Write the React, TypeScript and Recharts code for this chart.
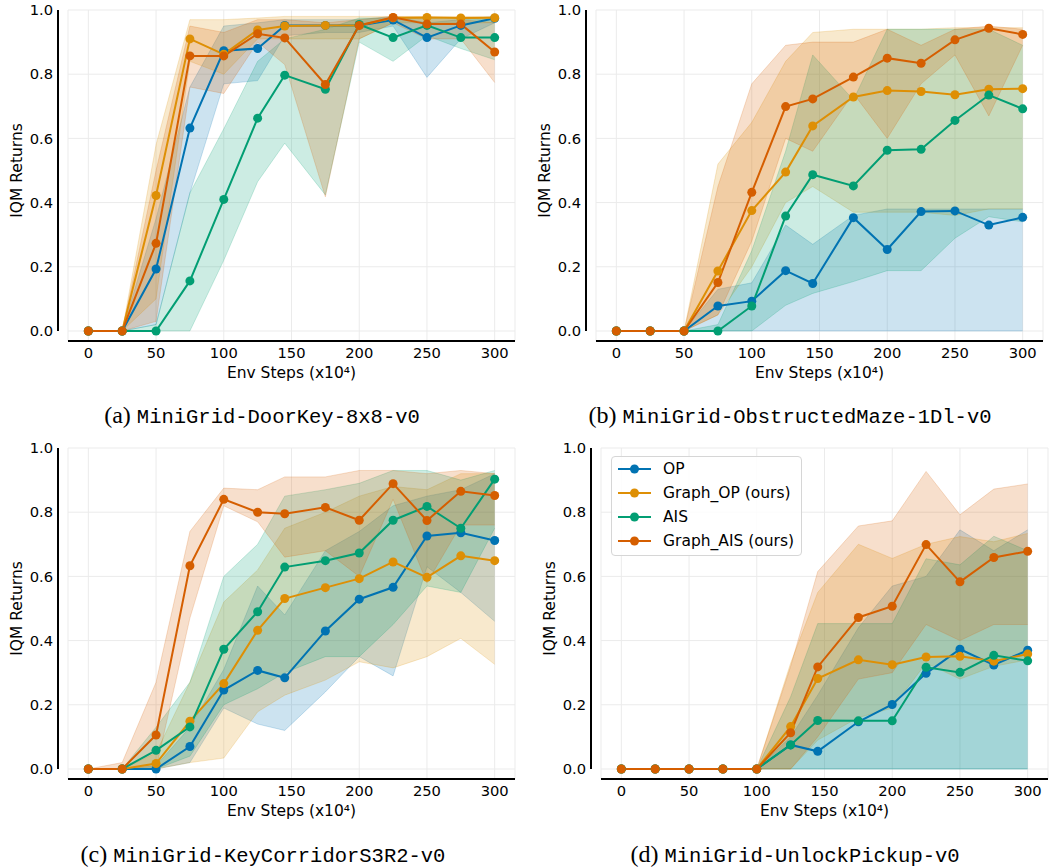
import {
  ComposedChart,
  Line,
  Area,
  XAxis,
  YAxis,
  CartesianGrid,
  ReferenceLine,
  Legend,
} from "recharts";

// x positions (env steps, x10^4)
const steps = [0, 25, 50, 75, 100, 125, 145, 175, 200, 225, 250, 275, 300];
const xTicks = [0, 50, 100, 150, 200, 250, 300];
const yTicks = [0, 0.2, 0.4, 0.6, 0.8, 1.0];

const seriesNames = ["OP", "Graph_OP (ours)", "AIS", "Graph_AIS (ours)"];
const envNames = [
  "MiniGrid-DoorKey-8x8-v0",
  "MiniGrid-ObstructedMaze-1Dl-v0",
  "MiniGrid-KeyCorridorS3R2-v0",
  "MiniGrid-UnlockPickup-v0",
];
const panelTags = ["a", "b", "c", "d"];

// (a) DoorKey-8x8
const dkOP = [0, 0, 0.193, 0.632, 0.873, 0.88, 0.952, 0.952, 0.952, 0.969, 0.914, 0.952, 0.974];
const dkOPLo = [0, 0, 0.02, 0.43, 0.77, 0.78, 0.92, 0.93, 0.93, 0.95, 0.79, 0.91, 0.96];
const dkOPHi = [0, 0, 0.35, 0.76, 0.95, 0.96, 0.97, 0.97, 0.97, 0.98, 0.96, 0.97, 0.98];
const dkGOP = [0, 0, 0.422, 0.91, 0.862, 0.938, 0.95, 0.952, 0.952, 0.976, 0.977, 0.975, 0.976];
const dkGOPLo = [0, 0, 0.1, 0.84, 0.8, 0.91, 0.91, 0.91, 0.91, 0.96, 0.96, 0.96, 0.96];
const dkGOPHi = [0, 0, 0.58, 0.97, 0.97, 0.975, 0.98, 0.98, 0.98, 0.98, 0.98, 0.98, 0.98];
const dkAIS = [0, 0, 0, 0.156, 0.41, 0.663, 0.797, 0.753, 0.955, 0.914, 0.952, 0.914, 0.914];
const dkAISLo = [0, 0, 0, 0, 0.22, 0.465, 0.585, 0.424, 0.9, 0.84, 0.92, 0.88, 0.845];
const dkAISHi = [0, 0, 0.02, 0.43, 0.63, 0.84, 0.91, 0.94, 0.975, 0.975, 0.975, 0.975, 0.97];
const dkGAIS = [0, 0, 0.273, 0.857, 0.857, 0.926, 0.913, 0.768, 0.952, 0.977, 0.956, 0.956, 0.869];
const dkGAISLo = [0, 0, 0.03, 0.76, 0.74, 0.9, 0.83, 0.418, 0.91, 0.96, 0.91, 0.91, 0.774];
const dkGAISHi = [0, 0, 0.5, 0.95, 0.93, 0.97, 0.97, 0.96, 0.97, 0.98, 0.97, 0.97, 0.96];

// (b) ObstructedMaze-1Dl
const obOP = [0, 0, 0, 0.078, 0.093, 0.188, 0.148, 0.353, 0.254, 0.372, 0.374, 0.33, 0.354];
const obOPLo = [0, 0, 0, 0, 0, 0, 0, 0, 0, 0, 0, 0, 0];
const obOPHi = [0, 0, 0, 0.13, 0.15, 0.33, 0.27, 0.36, 0.38, 0.38, 0.38, 0.38, 0.38];
const obGOP = [0, 0, 0, 0.187, 0.375, 0.495, 0.639, 0.729, 0.749, 0.746, 0.736, 0.753, 0.755];
const obGOPLo = [0, 0, 0, 0.05, 0.2, 0.4, 0.45, 0.37, 0.37, 0.37, 0.36, 0.38, 0.38];
const obGOPHi = [0, 0, 0, 0.52, 0.65, 0.84, 0.93, 0.94, 0.94, 0.94, 0.945, 0.945, 0.945];
const obAIS = [0, 0, 0, 0, 0.078, 0.358, 0.487, 0.452, 0.563, 0.566, 0.656, 0.735, 0.692];
const obAISLo = [0, 0, 0, 0, 0, 0.08, 0.117, 0.154, 0.188, 0.188, 0.289, 0.356, 0.34];
const obAISHi = [0, 0, 0, 0.02, 0.25, 0.56, 0.86, 0.72, 0.94, 0.94, 0.94, 0.94, 0.89];
const obGAIS = [0, 0, 0, 0.151, 0.432, 0.699, 0.723, 0.791, 0.85, 0.834, 0.907, 0.943, 0.924];
const obGAISLo = [0, 0, 0, 0.05, 0.28, 0.6, 0.56, 0.74, 0.6, 0.77, 0.86, 0.67, 0.89];
const obGAISHi = [0, 0, 0, 0.45, 0.77, 0.89, 0.9, 0.9, 0.94, 0.89, 0.94, 0.95, 0.94];

// (c) KeyCorridorS3R2
const kcOP = [0, 0, 0, 0.07, 0.246, 0.307, 0.284, 0.43, 0.529, 0.566, 0.726, 0.736, 0.712];
const kcOPLo = [0, 0, 0, 0.02, 0.19, 0.14, 0.12, 0.24, 0.35, 0.29, 0.63, 0.55, 0.46];
const kcOPHi = [0, 0, 0.01, 0.13, 0.31, 0.57, 0.48, 0.68, 0.74, 0.82, 0.85, 0.87, 0.92];
const kcGOP = [0, 0, 0.017, 0.149, 0.266, 0.432, 0.531, 0.565, 0.593, 0.645, 0.597, 0.664, 0.649];
const kcGOPLo = [0, 0, 0, 0.02, 0.034, 0.178, 0.23, 0.277, 0.334, 0.315, 0.35, 0.407, 0.326];
const kcGOPHi = [0, 0, 0.05, 0.27, 0.52, 0.62, 0.75, 0.8, 0.85, 0.88, 0.87, 0.92, 0.92];
const kcAIS = [0, 0, 0.058, 0.131, 0.373, 0.49, 0.629, 0.649, 0.673, 0.775, 0.818, 0.75, 0.903];
const kcAISLo = [0, 0, 0, 0.04, 0.2, 0.25, 0.3, 0.35, 0.35, 0.45, 0.57, 0.55, 0.75];
const kcAISHi = [0, 0, 0.13, 0.27, 0.6, 0.7, 0.85, 0.87, 0.89, 0.93, 0.93, 0.9, 0.93];
const kcGAIS = [0, 0, 0.106, 0.633, 0.84, 0.8, 0.795, 0.815, 0.775, 0.889, 0.774, 0.865, 0.852];
const kcGAISLo = [0, 0, 0, 0.47, 0.82, 0.77, 0.66, 0.68, 0.6, 0.84, 0.58, 0.76, 0.76];
const kcGAISHi = [0, 0.02, 0.27, 0.74, 0.875, 0.87, 0.91, 0.91, 0.93, 0.93, 0.92, 0.93, 0.92];

// (d) UnlockPickup
const upOP = [0, 0, 0, 0, 0, 0.075, 0.055, 0.147, 0.201, 0.298, 0.373, 0.324, 0.37];
const upOPLo = [0, 0, 0, 0, 0, 0, 0, 0, 0, 0, 0, 0, 0];
const upOPHi = [0, 0, 0, 0, 0, 0.1, 0.23, 0.44, 0.57, 0.6, 0.745, 0.68, 0.745];
const upGOP = [0, 0, 0, 0, 0, 0.132, 0.282, 0.34, 0.325, 0.349, 0.351, 0.336, 0.358];
const upGOPLo = [0, 0, 0, 0, 0, 0, 0.09, 0.16, 0.19, 0.33, 0.28, 0.32, 0.34];
const upGOPHi = [0, 0, 0, 0, 0, 0.33, 0.55, 0.7, 0.656, 0.7, 0.724, 0.708, 0.734];
const upAIS = [0, 0, 0, 0, 0, 0.075, 0.151, 0.15, 0.15, 0.317, 0.301, 0.354, 0.337];
const upAISLo = [0, 0, 0, 0, 0, 0, 0, 0, 0, 0, 0, 0, 0];
const upAISHi = [0, 0, 0, 0, 0, 0.225, 0.453, 0.453, 0.453, 0.655, 0.636, 0.725, 0.68];
const upGAIS = [0, 0, 0, 0, 0, 0.113, 0.318, 0.472, 0.507, 0.699, 0.583, 0.659, 0.678];
const upGAISLo = [0, 0, 0, 0, 0, 0, 0.1, 0.28, 0.3, 0.45, 0.4, 0.45, 0.45];
const upGAISHi = [0, 0, 0, 0, 0, 0.32, 0.615, 0.757, 0.773, 0.927, 0.792, 0.872, 0.888];

const COLORS = ["#0173b2", "#de8f05", "#029e73", "#d55e00"];
const KEYS = ["op", "gop", "ais", "gais"];
const FONT = "'DejaVu Sans', sans-serif";

type Triple = [number[], number[], number[]];

const panelSets: Triple[][] = [
  [[dkOP, dkOPLo, dkOPHi], [dkGOP, dkGOPLo, dkGOPHi], [dkAIS, dkAISLo, dkAISHi], [dkGAIS, dkGAISLo, dkGAISHi]],
  [[obOP, obOPLo, obOPHi], [obGOP, obGOPLo, obGOPHi], [obAIS, obAISLo, obAISHi], [obGAIS, obGAISLo, obGAISHi]],
  [[kcOP, kcOPLo, kcOPHi], [kcGOP, kcGOPLo, kcGOPHi], [kcAIS, kcAISLo, kcAISHi], [kcGAIS, kcGAISLo, kcGAISHi]],
  [[upOP, upOPLo, upOPHi], [upGOP, upGOPLo, upGOPHi], [upAIS, upAISLo, upAISHi], [upGAIS, upGAISLo, upGAISHi]],
];

function toRows(set: Triple[]) {
  return steps.map((s, i) => {
    const row: any = { step: s };
    set.forEach(([m, lo, hi], k) => {
      row[KEYS[k]] = m[i];
      row[KEYS[k] + "Band"] = [lo[i], hi[i]];
    });
    return row;
  });
}

// layout of the 2x2 grid
const layout = [
  { left: 0, top: 0, capX: 262, capY: 423 },
  { left: 528, top: 0, capX: 790, capY: 423 },
  { left: 0, top: 438, capX: 263, capY: 861.5 },
  { left: 533, top: 438, capX: 795, capY: 861.5 },
];

const W = 525;
const H = 386;
const PLOT_LEFT = 68;
const SPINE_GAP = 10;
const X_MIN = -15;
const X_MAX = 315;
const Y_MIN = -0.0312;
// y spine sits 10px left of the plot area
const SPINE_X = X_MIN - SPINE_GAP / ((W - PLOT_LEFT - 10) / (X_MAX - X_MIN));

const yLabel = (props: any) => {
  const vb = props.viewBox || { x: 0, y: 10, height: 331 };
  const cx = vb.x + 17;
  const cy = vb.y + (vb.height - SPINE_GAP) / 2;
  return (
    <text
      x={cx}
      y={cy}
      transform={`rotate(-90 ${cx} ${cy})`}
      textAnchor="middle"
      dominantBaseline="central"
      fill="#000"
      fontSize={15.5}
      fontFamily={FONT}
    >
      IQM Returns
    </text>
  );
};

const renderLegend = (props: any) => {
  const items = (props.payload || [])
    .filter((p: any) => p.type !== "none")
    .slice()
    .sort((a: any, b: any) => seriesNames.indexOf(a.value) - seriesNames.indexOf(b.value));
  return (
    <div
      style={{
        border: "1px solid #d6d6d6",
        borderRadius: 4,
        background: "rgba(255,255,255,0.85)",
        width: 189,
        paddingBottom: 2,
        fontFamily: FONT,
      }}
    >
      {items.map((p: any) => (
        <div key={p.value} style={{ display: "flex", alignItems: "center", height: 24 }}>
          <svg width={51} height={24} style={{ flex: "none" }}>
            <line x1={6} x2={39} y1={12} y2={12} stroke={p.color} strokeWidth={2} />
            <circle cx={22.5} cy={12} r={4.5} fill={p.color} />
          </svg>
          <span style={{ fontSize: 15.5, color: "#000", whiteSpace: "nowrap" }}>{p.value}</span>
        </div>
      ))}
    </div>
  );
};

function Panel({ index }: { index: number }) {
  const rows = toRows(panelSets[index]);
  const pos = layout[index];
  const showLegend = index === 3;
  return (
    <div style={{ position: "absolute", left: pos.left, top: pos.top }}>
      <ComposedChart
        width={W}
        height={H}
        data={rows}
        margin={{ top: 10, right: 10, bottom: 0, left: 0 }}
      >
        <CartesianGrid stroke="#ebebeb" strokeWidth={1} />
        <XAxis
          dataKey="step"
          type="number"
          domain={[X_MIN, X_MAX]}
          ticks={xTicks}
          height={45}
          axisLine={{ stroke: "#000", strokeWidth: 2 }}
          tickLine={false}
          tickMargin={1}
          tick={{ fontSize: 14.7, fill: "#000", fontFamily: FONT }}
          label={{
            value: "Env Steps (x10⁴)",
            position: "insideBottom",
            offset: 8,
            fill: "#000",
            fontSize: 15.5,
            fontFamily: FONT,
          }}
        />
        <YAxis
          type="number"
          domain={[Y_MIN, 1]}
          ticks={yTicks}
          width={PLOT_LEFT}
          axisLine={false}
          tickLine={false}
          tickMargin={9}
          tickFormatter={(v: number) => v.toFixed(1)}
          tick={{ fontSize: 14.7, fill: "#000", fontFamily: FONT }}
          label={yLabel}
        />
        <ReferenceLine
          segment={[
            { x: SPINE_X, y: 0 },
            { x: SPINE_X, y: 1 },
          ]}
          stroke="#000"
          strokeWidth={2}
          ifOverflow="visible"
        />
        {KEYS.map((k, i) => (
          <Area
            key={k + "Band"}
            type="linear"
            dataKey={k + "Band"}
            fill={COLORS[i]}
            fillOpacity={0.2}
            stroke={COLORS[i]}
            strokeOpacity={0.2}
            strokeWidth={1}
            dot={false}
            activeDot={false}
            legendType="none"
            isAnimationActive={false}
          />
        ))}
        {KEYS.map((k, i) => (
          <Line
            key={k}
            type="linear"
            dataKey={k}
            name={seriesNames[i]}
            stroke={COLORS[i]}
            strokeWidth={2}
            dot={{ r: 4.5, fill: COLORS[i], stroke: COLORS[i], strokeWidth: 0 }}
            activeDot={false}
            isAnimationActive={false}
          />
        ))}
        {showLegend && (
          <Legend
            layout="vertical"
            align="center"
            verticalAlign="middle"
            content={renderLegend}
            wrapperStyle={{ left: 78, top: 18, width: "auto" }}
          />
        )}
      </ComposedChart>
    </div>
  );
}

export default function App() {
  return (
    <div
      style={{
        position: "absolute",
        left: 0,
        top: 0,
        width: 1055,
        height: 867,
        background: "#fff",
        fontFamily: FONT,
      }}
    >
      {[0, 1, 2, 3].map((i) => (
        <Panel key={i} index={i} />
      ))}
      <svg
        width={1055}
        height={867}
        style={{ position: "absolute", left: 0, top: 0, pointerEvents: "none" }}
      >
        {layout.map((p, i) => (
          <text key={i} x={p.capX} y={p.capY} textAnchor="middle" fill="#000">
            <tspan fontFamily="'Liberation Serif', serif" fontSize={24}>
              ({panelTags[i]}){" "}
            </tspan>
            <tspan fontFamily="'Liberation Mono', monospace" fontSize={20.5}>
              {envNames[i]}
            </tspan>
          </text>
        ))}
      </svg>
    </div>
  );
}
